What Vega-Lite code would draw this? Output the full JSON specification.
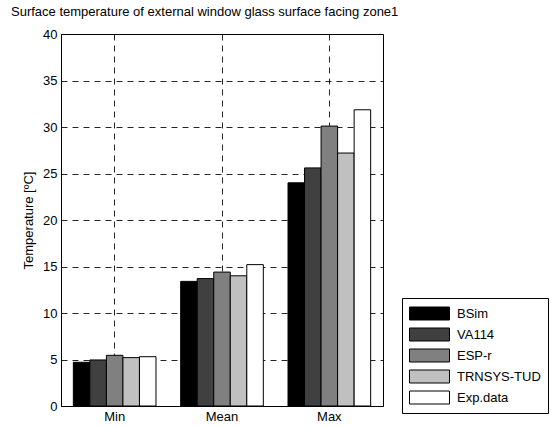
{
  "$schema": "https://vega.github.io/schema/vega-lite/v6.json",
  "autosize": "none",
  "width": 322,
  "height": 372,
  "padding": {"left": 61, "top": 34, "right": 169, "bottom": 21},
  "background": "white",
  "title": {
    "text": "Surface temperature of external window glass surface facing zone1",
    "anchor": "start",
    "frame": "group",
    "dx": -50,
    "offset": 9,
    "font": "Liberation Sans",
    "fontSize": 13,
    "fontWeight": "normal",
    "color": "black"
  },
  "config": {
    "view": {"stroke": "black", "strokeWidth": 1},
    "font": "Liberation Sans"
  },
  "data": {
    "values": [
      {"stat": "Min", "model": "BSim", "temp": 4.7},
      {"stat": "Min", "model": "VA114", "temp": 4.95},
      {"stat": "Min", "model": "ESP-r", "temp": 5.45},
      {"stat": "Min", "model": "TRNSYS-TUD", "temp": 5.2},
      {"stat": "Min", "model": "Exp.data", "temp": 5.3},
      {"stat": "Mean", "model": "BSim", "temp": 13.4},
      {"stat": "Mean", "model": "VA114", "temp": 13.7},
      {"stat": "Mean", "model": "ESP-r", "temp": 14.4},
      {"stat": "Mean", "model": "TRNSYS-TUD", "temp": 14.0},
      {"stat": "Mean", "model": "Exp.data", "temp": 15.2},
      {"stat": "Max", "model": "BSim", "temp": 24.0},
      {"stat": "Max", "model": "VA114", "temp": 25.6},
      {"stat": "Max", "model": "ESP-r", "temp": 30.1},
      {"stat": "Max", "model": "TRNSYS-TUD", "temp": 27.2},
      {"stat": "Max", "model": "Exp.data", "temp": 31.85}
    ]
  },
  "mark": {"type": "bar", "stroke": "black", "strokeWidth": 1},
  "encoding": {
    "x": {
      "field": "stat",
      "type": "nominal",
      "sort": ["Min", "Mean", "Max"],
      "scale": {"paddingInner": 0.23, "paddingOuter": 0.115},
      "axis": {
        "title": null,
        "labelAngle": 0,
        "labelFont": "Liberation Sans",
        "labelFontSize": 13,
        "labelColor": "black",
        "labelPadding": 4,
        "tickSize": 0,
        "domain": true,
        "domainColor": "black",
        "grid": true,
        "bandPosition": 0.5,
        "gridColor": "black",
        "gridDash": [6, 5],
        "gridWidth": 1,
        "gridOpacity": 0.85
      }
    },
    "xOffset": {
      "field": "model",
      "type": "nominal",
      "sort": ["BSim", "VA114", "ESP-r", "TRNSYS-TUD", "Exp.data"],
      "scale": {"paddingInner": 0, "paddingOuter": 0}
    },
    "y": {
      "field": "temp",
      "type": "quantitative",
      "scale": {"domain": [0, 40], "nice": false},
      "axis": {
        "title": "Temperature [ºC]",
        "titleFont": "Liberation Sans",
        "titleFontSize": 13,
        "titleFontWeight": "normal",
        "titleColor": "black",
        "titlePadding": 7,
        "values": [0, 5, 10, 15, 20, 25, 30, 35, 40],
        "labelFont": "Liberation Sans",
        "labelFontSize": 13,
        "labelColor": "black",
        "labelPadding": 4,
        "tickSize": 0,
        "domainColor": "black",
        "grid": true,
        "gridColor": "black",
        "gridDash": [6, 5],
        "gridWidth": 1,
        "gridOpacity": 0.85
      }
    },
    "fill": {
      "field": "model",
      "type": "nominal",
      "sort": ["BSim", "VA114", "ESP-r", "TRNSYS-TUD", "Exp.data"],
      "scale": {
        "domain": ["BSim", "VA114", "ESP-r", "TRNSYS-TUD", "Exp.data"],
        "range": ["#000000", "#404040", "#808080", "#c0c0c0", "#ffffff"]
      },
      "legend": {
        "title": null,
        "orient": "none",
        "legendX": 341,
        "legendY": 264,
        "strokeColor": "black",
        "padding": 7,
        "fillColor": "white",
        "symbolType": "M-1,-0.8125H4V0.8125H-1Z",
        "symbolSize": 256,
        "symbolStrokeColor": "black",
        "symbolStrokeWidth": 1,
        "symbolOpacity": 1,
        "labelFont": "Liberation Sans",
        "labelFontSize": 13,
        "labelColor": "black",
        "labelOffset": 31,
        "rowPadding": 4
      }
    }
  }
}
